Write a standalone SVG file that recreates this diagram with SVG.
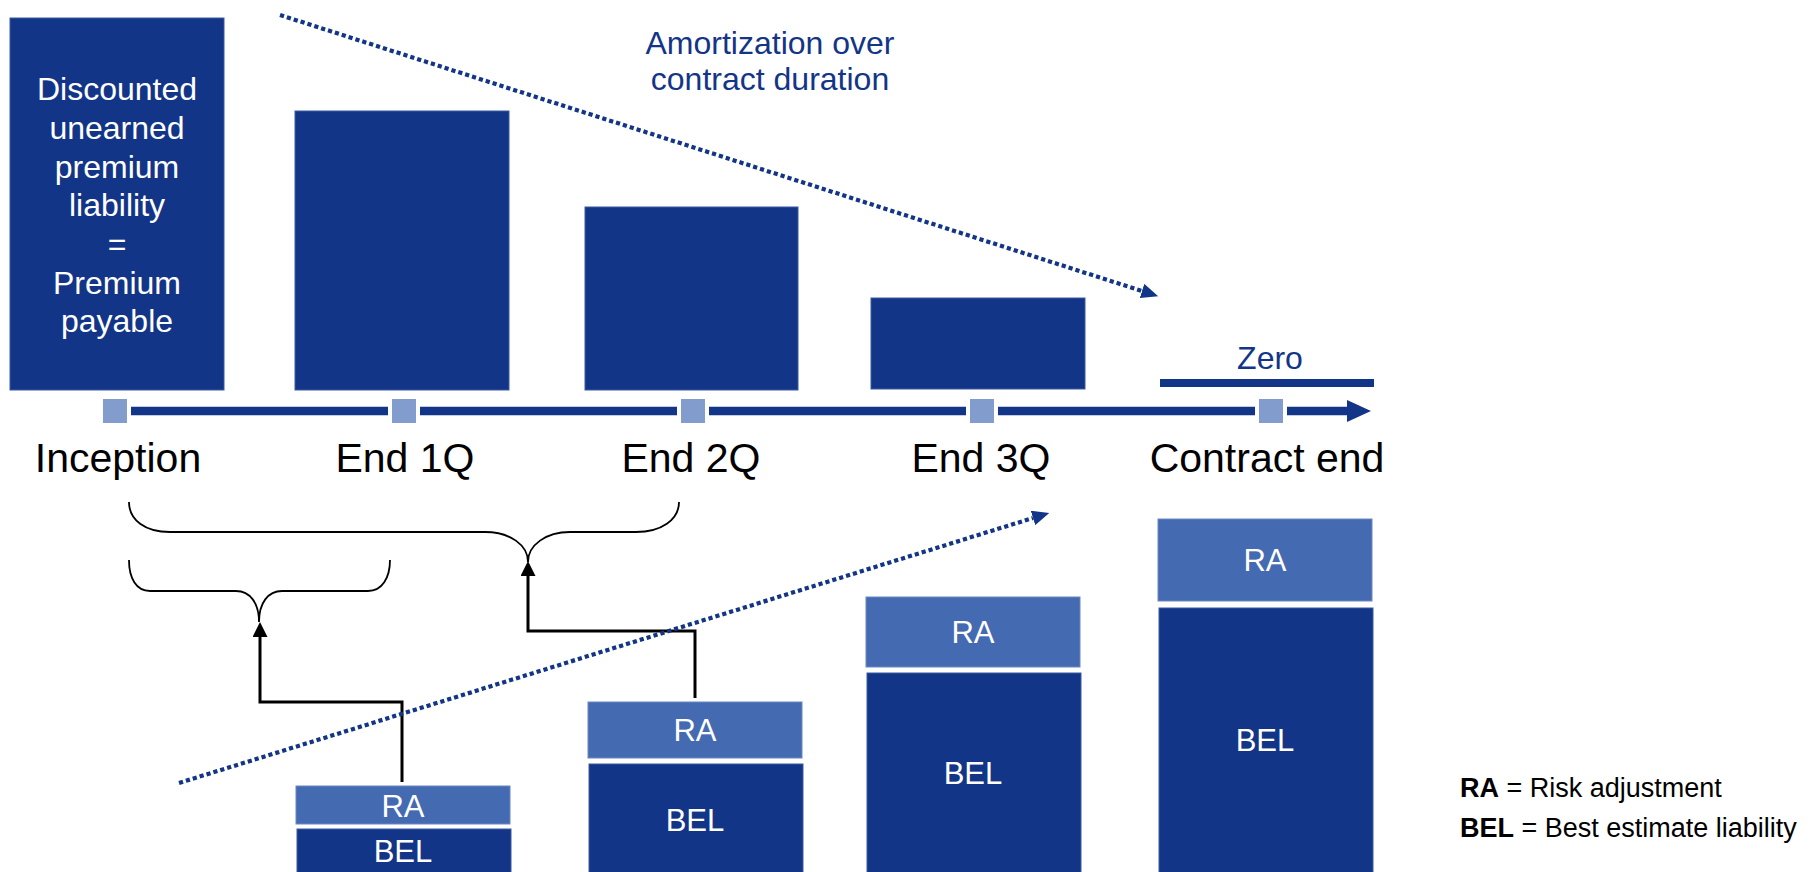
<svg xmlns="http://www.w3.org/2000/svg" width="1810" height="872" viewBox="0 0 1810 872">
  <style>
    .navy { fill: #133587; stroke: #3d5aa3; stroke-width: 1; }
    .ra { fill: #446ab2; stroke: #6a88c4; stroke-width: 1; }
    .tick { fill: #829dcd; stroke: #ffffff; stroke-width: 4; }
    .wt { font-family: "Liberation Sans", Arial, sans-serif; fill: #ffffff; text-anchor: middle; }
    .big { font-size: 32px; }
    .stack { font-size: 31px; }
    .lbl { font-family: "Liberation Sans", Arial, sans-serif; font-size: 41px; fill: #000000; text-anchor: middle; }
    .blue { font-family: "Liberation Sans", Arial, sans-serif; font-size: 32px; fill: #133587; text-anchor: middle; }
    .legend { font-family: "Liberation Sans", Arial, sans-serif; font-size: 27px; fill: #000000; }
    .dots { fill: none; stroke: #133587; stroke-width: 4.2; stroke-dasharray: 4.2 3; }
    .brace { fill: none; stroke: #000000; stroke-width: 1.8; }
    .link { fill: none; stroke: #000000; stroke-width: 3; }
  </style>
  <defs>
    <marker id="headBlue" viewBox="0 0 10 10" refX="0" refY="5" markerUnits="userSpaceOnUse" markerWidth="17" markerHeight="15" orient="auto" preserveAspectRatio="none">
      <path d="M0,0 L10,5 L0,10 z" fill="#133587"/>
    </marker>
    <marker id="headBlack" viewBox="0 0 10 10" refX="0" refY="5" markerUnits="userSpaceOnUse" markerWidth="15" markerHeight="15" orient="auto" preserveAspectRatio="none">
      <path d="M0,0 L10,5 L0,10 z" fill="#000000"/>
    </marker>
  </defs>

  <!-- Liability bars above the timeline -->
  <g id="bar-inception">
    <rect class="navy" x="10" y="18" width="214" height="372"/>
    <text class="wt big" x="117" y="100">Discounted</text>
    <text class="wt big" x="117" y="139">unearned</text>
    <text class="wt big" x="117" y="178">premium</text>
    <text class="wt big" x="117" y="216">liability</text>
    <text class="wt big" x="117" y="255">=</text>
    <text class="wt big" x="117" y="294">Premium</text>
    <text class="wt big" x="117" y="332">payable</text>
  </g>
  <g id="bar-end1q">
    <rect class="navy" x="295" y="111" width="214" height="279"/>
  </g>
  <g id="bar-end2q">
    <rect class="navy" x="585" y="207" width="213" height="183"/>
  </g>
  <g id="bar-end3q">
    <rect class="navy" x="871" y="298" width="214" height="91"/>
  </g>
  <g id="bar-zero">
    <rect x="1160" y="379" width="214" height="8" fill="#133587"/>
    <text class="blue" x="1270" y="369">Zero</text>
  </g>

  <g id="amortization-label">
    <text class="blue" x="770" y="54">Amortization over</text>
    <text class="blue" x="770" y="90">contract duration</text>
  </g>

  <!-- Timeline -->
  <g id="timeline">
    <line x1="115" y1="411" x2="1350" y2="411" stroke="#133587" stroke-width="8.5"/>
    <polygon points="1347,400 1371,411 1347,422" fill="#133587"/>
    <rect class="tick" x="101" y="397" width="28" height="28"/>
    <rect class="tick" x="390" y="397" width="28" height="28"/>
    <rect class="tick" x="679" y="397" width="28" height="28"/>
    <rect class="tick" x="968" y="397" width="28" height="28"/>
    <rect class="tick" x="1257" y="397" width="28" height="28"/>
    <text class="lbl" x="118" y="472">Inception</text>
    <text class="lbl" x="405" y="472">End 1Q</text>
    <text class="lbl" x="691" y="472">End 2Q</text>
    <text class="lbl" x="981" y="472">End 3Q</text>
    <text class="lbl" x="1267" y="472">Contract end</text>
  </g>

  <!-- Braces grouping periods -->
  <g id="brace-large">
    <path class="brace" d="M129,502 C129,520 145,532 170,532 L485,532 C510,532 528,545 528,562 C528,545 546,532 570,532 L636,532 C661,532 679,520 679,502"/>
  </g>
  <g id="brace-small">
    <path class="brace" d="M129,560 C129,578 136,591 150,591 L236,591 C250,591 259,603 259,622 C259,603 268,591 282,591 L368,591 C382,591 390,578 390,560"/>
  </g>

  <!-- Stacked RA / BEL columns below the timeline -->
  <g id="stack-end1q">
    <rect class="ra" x="296" y="786" width="214" height="38"/>
    <rect class="navy" x="297" y="829" width="214" height="50"/>
    <text class="wt stack" x="403" y="817">RA</text>
    <text class="wt stack" x="403" y="862">BEL</text>
  </g>
  <g id="stack-end2q">
    <rect class="ra" x="588" y="702" width="214" height="56"/>
    <rect class="navy" x="589" y="764" width="214" height="115"/>
    <text class="wt stack" x="695" y="741">RA</text>
    <text class="wt stack" x="695" y="831">BEL</text>
  </g>
  <g id="stack-end3q">
    <rect class="ra" x="866" y="597" width="214" height="70"/>
    <rect class="navy" x="867" y="673" width="214" height="206"/>
    <text class="wt stack" x="973" y="643">RA</text>
    <text class="wt stack" x="973" y="784">BEL</text>
  </g>
  <g id="stack-contract-end">
    <rect class="ra" x="1158" y="519" width="214" height="82"/>
    <rect class="navy" x="1159" y="608" width="214" height="271"/>
    <text class="wt stack" x="1265" y="571">RA</text>
    <text class="wt stack" x="1265" y="751">BEL</text>
  </g>

  <g id="legend">
    <text class="legend" x="1460" y="797"><tspan font-weight="bold">RA</tspan> = Risk adjustment</text>
    <text class="legend" x="1460" y="837"><tspan font-weight="bold">BEL</tspan> = Best estimate liability</text>
  </g>

  <!-- Connectors -->
  <g id="connectors">
    <path class="link" d="M402,782 V702 H260 V637" marker-end="url(#headBlack)"/>
    <path class="link" d="M695,698 V631 H528 V576" marker-end="url(#headBlack)"/>
    <line class="dots" x1="280" y1="15" x2="1142" y2="291" marker-end="url(#headBlue)"/>
    <line class="dots" x1="179" y1="783" x2="1033" y2="518" marker-end="url(#headBlue)"/>
  </g>
</svg>
